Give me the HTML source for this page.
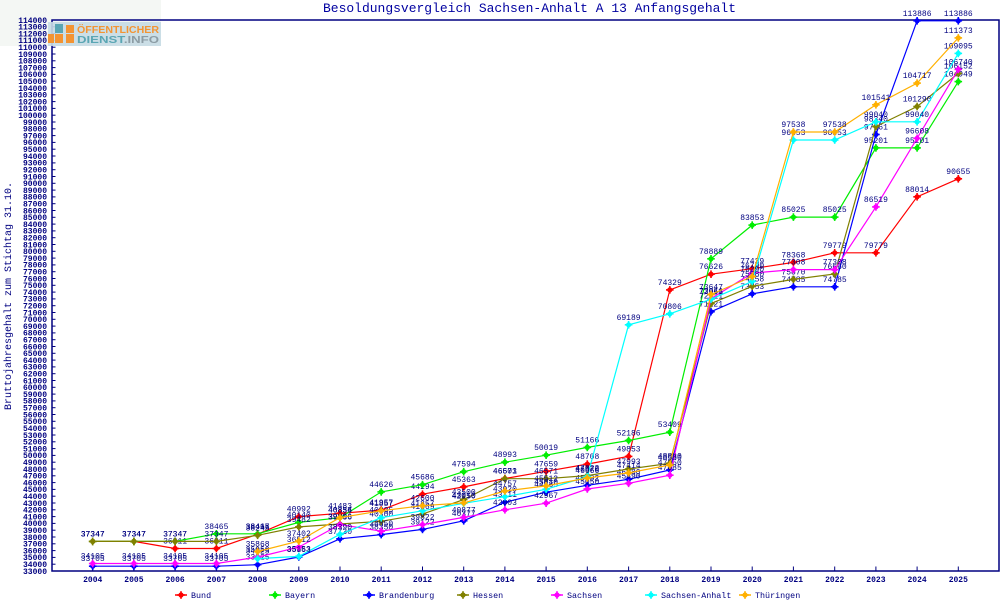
<!DOCTYPE html>
<html><head><meta charset="utf-8"><style>
html,body{margin:0;padding:0;background:#fff;}
svg{display:block;}
</style></head><body>
<svg id="c" xmlns="http://www.w3.org/2000/svg" width="1000" height="600" viewBox="0 0 1000 600">
<rect x="0" y="0" width="1000" height="600" fill="#ffffff"/>
<rect x="0" y="0" width="161" height="46" fill="#f4f7f4"/>
<g id="ticks"></g>
<g id="series"></g>
<g id="logo">
  <rect x="48" y="22" width="113" height="24" fill="#c6dae4" opacity="0.9"/>
  <rect x="55" y="24" width="8" height="9" fill="#5aa6b4"/>
  <rect x="66" y="25" width="8" height="8" fill="#f39433"/>
  <rect x="48" y="34" width="6" height="9" fill="#f39433"/>
  <rect x="55" y="34" width="8" height="9" fill="#f39433"/>
  <rect x="66" y="34" width="8" height="9" fill="#f39433"/>
  <text x="77" y="33" font-family="Liberation Sans, sans-serif" font-weight="bold" font-size="10" fill="#f39433" textLength="82" lengthAdjust="spacingAndGlyphs">ÖFFENTLICHER</text>
  <text x="77" y="43" font-family="Liberation Sans, sans-serif" font-weight="bold" font-size="10" fill="#5aa6b4" textLength="82" lengthAdjust="spacingAndGlyphs">DIENST<tspan fill="#8c9ca4">.INFO</tspan></text>
</g>
<text x="529.5" y="12" text-anchor="middle" font-family="Liberation Mono, monospace" font-size="13" fill="#0000a0" textLength="413" lengthAdjust="spacingAndGlyphs">Besoldungsvergleich Sachsen-Anhalt A 13 Anfangsgehalt</text>
<text transform="translate(11,296) rotate(-90)" text-anchor="middle" font-family="Liberation Mono, monospace" font-size="10" fill="#000080" textLength="228" lengthAdjust="spacingAndGlyphs">Bruttojahresgehalt zum Stichtag 31.10.</text>
<g id="legend"></g>
</svg>
<script>
(function(){
var NS="http://www.w3.org/2000/svg";
var X0=92.7, DX=41.22;
function yv(v){return 571-(v-33000)*551/81000;}
function xv(i){return X0+i*DX;}
var tk=[];
// frame
tk.push('<rect x="52" y="20" width="947" height="551" fill="none" stroke="#000080" stroke-width="1.5"/>');
for(var v=33000;v<=114000;v+=1000){
  var y=yv(v);
  tk.push('<line x1="52" y1="'+y.toFixed(1)+'" x2="55.5" y2="'+y.toFixed(1)+'" stroke="#000080" stroke-width="1"/>');
  tk.push('<text x="47" y="'+(y+2.8).toFixed(1)+'" text-anchor="end" font-family="Liberation Mono, monospace" font-weight="bold" font-size="8" fill="#000080">'+v+'</text>');
}
for(var i=0;i<22;i++){
  var x=xv(i);
  tk.push('<line x1="'+x.toFixed(1)+'" y1="566.5" x2="'+x.toFixed(1)+'" y2="571" stroke="#000080" stroke-width="1"/>');
  tk.push('<text x="'+x.toFixed(1)+'" y="582" text-anchor="middle" font-family="Liberation Mono, monospace" font-weight="bold" font-size="8" fill="#000080">'+(2004+i)+'</text>');
}
document.getElementById('ticks').innerHTML=tk.join('');

var S=[
 ["Bund","#ff0000",[37347,37347,36311,36311,38417,40992,41483,41957,44294,45363,46603,47659,48708,49853,74329,76626,77439,78368,79779,79779,88014,90655]],
 ["Bayern","#00ee00",[37347,37347,37347,38465,38465,40140,40834,44626,45686,47594,48993,50019,51166,52186,53409,78889,83853,85025,85025,95201,95201,104949]],
 ["Brandenburg","#0000ff",[33705,33705,33705,33705,33925,35063,37730,38350,39122,40377,43111,44585,45602,46480,47850,71121,73753,74785,74785,97161,113886,113886]],
 ["Hessen","#808000",[37347,37347,37347,37347,38245,39482,39906,40300,41369,43500,46571,46571,47022,47993,48830,72311,74858,75870,76660,98340,101290,106152]],
 ["Sachsen","#ff00ff",[34105,34105,34105,34105,35050,36512,39836,38850,39822,40877,42003,42967,45050,45890,47085,73041,76790,77308,77308,86519,96608,106740]],
 ["Sachsen-Anhalt","#00ffff",[null,null,null,null,34825,35153,38390,40835,41857,42950,43920,45010,46870,69189,70806,72958,75580,96353,96353,99040,99040,109095]],
 ["Thüringen","#ffb000",[null,null,null,null,35868,37402,40856,41857,42600,43010,44757,45512,46666,47414,48580,73647,76290,97538,97538,101541,104717,111373]]
];
function marker(x,y,c){
  return '<g fill="'+c+'" stroke="'+c+'"><circle cx="'+x.toFixed(1)+'" cy="'+y.toFixed(1)+'" r="2.6" stroke="none"/>'+
   '<line x1="'+(x-3.8).toFixed(1)+'" y1="'+y.toFixed(1)+'" x2="'+(x+3.8).toFixed(1)+'" y2="'+y.toFixed(1)+'" stroke-width="1.6"/>'+
   '<line x1="'+x.toFixed(1)+'" y1="'+(y-3.8).toFixed(1)+'" x2="'+x.toFixed(1)+'" y2="'+(y+3.8).toFixed(1)+'" stroke-width="1.6"/></g>';
}
var out=[];
S.forEach(function(s){
  var c=s[1], d=s[2], pts=[];
  for(var i=0;i<d.length;i++){ if(d[i]!=null) pts.push([xv(i),yv(d[i]),d[i]]); }
  out.push('<polyline fill="none" stroke="'+c+'" stroke-width="1.2" points="'+pts.map(function(p){return p[0].toFixed(1)+','+p[1].toFixed(1);}).join(' ')+'"/>');
  pts.forEach(function(p){ out.push(marker(p[0],p[1],c)); });
  pts.forEach(function(p){
    out.push('<text x="'+p[0].toFixed(1)+'" y="'+(p[1]-5).toFixed(1)+'" text-anchor="middle" font-family="Liberation Mono, monospace" font-size="8" fill="#000080">'+p[2]+'</text>');
  });
});
document.getElementById('series').innerHTML=out.join('');

var lx=[175,269,363,457,551,645,739], lg=[];
S.forEach(function(s,i){
  var x=lx[i], c=s[1];
  lg.push('<line x1="'+x+'" y1="595" x2="'+(x+12)+'" y2="595" stroke="'+c+'" stroke-width="1.5"/>');
  lg.push(marker(x+6,595,c));
  lg.push('<text x="'+(x+16)+'" y="598" font-family="Liberation Mono, monospace" font-size="8.4" fill="#000080">'+s[0]+'</text>');
});
document.getElementById('legend').innerHTML=lg.join('');
})();
</script>
</body></html>
